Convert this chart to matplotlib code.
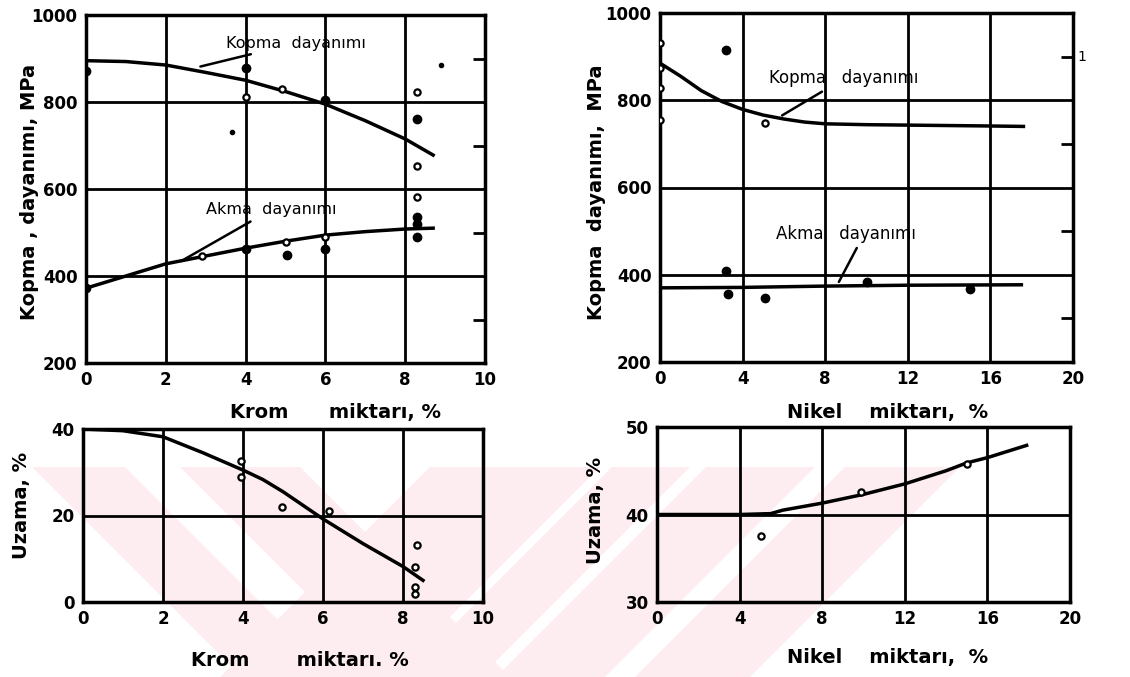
import matplotlib.pyplot as plt
from matplotlib.patches import Polygon
from matplotlib.ticker import FixedLocator

# --- Krom (chromium) panel, strength ---
krom_x = [0, 1, 2, 3, 4, 5, 6, 7, 8, 8.7]
kopma_krom = [895, 893, 885, 868, 850, 824, 795, 757, 715, 678]
akma_krom = [372, 400, 428, 446, 464, 480, 494, 502, 508, 510]

kopma_krom_open_x = [4, 4.9, 8.3, 8.3, 8.3]
kopma_krom_open_y = [812, 830, 823, 653, 582]
kopma_krom_fill_x = [0, 4, 6, 8.3, 8.3]
kopma_krom_fill_y = [872, 878, 805, 761, 536]
stray_krom_x = [3.65, 8.9]
stray_krom_y = [731, 885]

akma_krom_open_x = [5, 2.9, 6]
akma_krom_open_y = [478, 447, 490]
akma_krom_fill_x = [0, 4, 5.05, 6, 8.3, 8.3]
akma_krom_fill_y = [372, 462, 448, 462, 490, 520]

# --- Nikel (nickel) panel, strength ---
nikel_x = [0, 1, 2, 3, 4, 5, 6, 7, 8, 10, 12, 14, 16, 17.6]
kopma_nikel = [885, 855, 822, 797, 779, 766, 757, 750, 746, 744, 743, 742, 741, 740]
akma_nikel_x = [0, 4, 8, 12, 17.5]
akma_nikel = [370, 371, 374, 376, 377]

kopma_nikel_open_x = [0, 0, 0, 0, 5.1]
kopma_nikel_open_y = [931, 874, 828, 754, 747]
kopma_nikel_fill_x = [3.2]
kopma_nikel_fill_y = [916]
akma_nikel_fill_x = [3.2, 3.3, 5.1, 10, 15]
akma_nikel_fill_y = [409, 356, 347, 384, 368]

# --- elongation ---
uzama_krom_x = [0, 1, 2, 3, 4, 4.5, 5, 6, 7, 8, 8.5]
uzama_krom = [40, 39.6, 38.2, 34.5, 30.5, 28.3, 25.5, 19.2, 13.5, 8.2, 5.0]
uzama_krom_open_x = [3.95, 3.95, 4.97, 6.16, 8.34, 8.3, 8.3, 8.3]
uzama_krom_open_y = [32.5, 29, 22, 21, 13.2, 8.2, 3.5, 1.8]

uzama_nikel_x = [0, 2, 4, 5.5, 6.1, 8, 10, 12, 14, 15, 16, 17.9]
uzama_nikel = [40, 40, 40, 40.1, 40.5, 41.3, 42.3, 43.5, 45, 45.9, 46.5, 47.9]
uzama_nikel_open_x = [5.05, 9.9, 15]
uzama_nikel_open_y = [37.5, 42.6, 45.8]

W, H = 1130, 677
plt.rcParams["font.family"] = ["DejaVu Sans"]
fig = plt.figure(figsize=(W / 100, H / 100), dpi=100)


def px(x0, y0, x1, y1):
    return [x0 / W, 1 - y1 / H, (x1 - x0) / W, (y1 - y0) / H]


# faint pink watermark stripes behind the panels
pink = "#fdedf0"
top, bot = 467, 677
h = bot - top
bands = [(32, 125, 1), (180, 300, 1), (430, 600, -1), (612, 690, -1),
         (706, 815, -1), (845, 960, -1)]
for a, b, d in bands:
    poly = [(a, top), (b, top), (b + d * h, bot), (a + d * h, bot)]
    poly = [(x / W, 1 - y / H) for x, y in poly]
    fig.patches.append(Polygon(poly, closed=True, transform=fig.transFigure,
                               facecolor=pink, edgecolor="none", zorder=-5))


def style(ax, xt, yt, xl, yl, minor=None):
    ax.set_facecolor("none")
    ax.set_xlim(xt[0], xt[-1])
    ax.set_ylim(yt[0], yt[-1])
    ax.set_xticks(xt)
    ax.set_yticks(yt)
    ax.set_xticklabels(xl)
    ax.set_yticklabels(yl)
    ax.tick_params(length=0, labelsize=12, pad=6)
    for lab in ax.get_xticklabels() + ax.get_yticklabels():
        lab.set_fontweight("bold")
    for s in ax.spines.values():
        s.set_linewidth(2.5)
    ax.grid(True, color="black", linewidth=2.0)
    ax.set_axisbelow(True)
    if minor is not None:
        ax.yaxis.set_minor_locator(FixedLocator(minor))
        ax.tick_params(which="minor", left=False, right=True,
                       direction="in", length=9, width=2)


line_kw = dict(color="black", linewidth=2.5, zorder=3)
open_kw = dict(marker="o", linestyle="none", markersize=4.5, markerfacecolor="white",
               markeredgecolor="black", markeredgewidth=1.6, zorder=4)
fill_kw = dict(marker="o", linestyle="none", markersize=6, color="black", zorder=4)
ann = dict(fontsize=11.5, va="center")
leader = dict(arrowstyle="-", color="black", lw=1.8)

# top-left
ax1 = fig.add_axes(px(86, 15, 485, 363))
style(ax1, [0, 2, 4, 6, 8, 10], [200, 400, 600, 800, 1000],
      ["0", "2", "4", "6", "8", "10"], ["200", "400", "600", "800", "1000"],
      minor=[300, 500, 700, 900])
ax1.plot(krom_x, kopma_krom, **line_kw)
ax1.plot(krom_x, akma_krom, **line_kw)
ax1.plot(kopma_krom_open_x, kopma_krom_open_y, **open_kw)
ax1.plot(kopma_krom_fill_x, kopma_krom_fill_y, **fill_kw)
ax1.plot(stray_krom_x, stray_krom_y, marker="o", linestyle="none", markersize=3, color="black")
ax1.plot(akma_krom_open_x, akma_krom_open_y, **open_kw)
ax1.plot(akma_krom_fill_x, akma_krom_fill_y, **fill_kw)
ax1.annotate("Kopma  dayanımı", xy=(2.8, 880), xytext=(3.5, 935),
             arrowprops=leader, **ann)
ax1.annotate("Akma  dayanımı", xy=(2.4, 435), xytext=(3.0, 552),
             arrowprops=leader, **ann)

# top-right
ax2 = fig.add_axes(px(660, 13, 1073, 362))
style(ax2, [0, 4, 8, 12, 16, 20], [200, 400, 600, 800, 1000],
      ["0", "4", "8", "12", "16", "20"], ["200", "400", "600", "800", "1000"],
      minor=[300, 500, 700, 900])
ax2.plot(nikel_x, kopma_nikel, **line_kw)
ax2.plot(akma_nikel_x, akma_nikel, **line_kw)
ax2.plot(kopma_nikel_open_x, kopma_nikel_open_y, **open_kw)
ax2.plot(kopma_nikel_fill_x, kopma_nikel_fill_y, **fill_kw)
ax2.plot(akma_nikel_fill_x, akma_nikel_fill_y, **fill_kw)
ax2.annotate("Kopma   dayanımı", xy=(5.8, 762), xytext=(5.3, 850),
             arrowprops=dict(leader, shrinkA=2), fontsize=12, va="center")
ax2.annotate("Akma   dayanımı", xy=(8.6, 378), xytext=(5.6, 494),
             arrowprops=dict(leader, relpos=(0.6, 0)), fontsize=12, va="center")
ax2.text(1.01, 900, "1", transform=ax2.get_yaxis_transform(), fontsize=10,
         va="center")

# bottom-left
ax3 = fig.add_axes(px(83, 429, 483, 602))
style(ax3, [0, 2, 4, 6, 8, 10], [0, 20, 40],
      ["0", "2", "4", "6", "8", "10"], ["0", "20", "40"])
ax3.plot(uzama_krom_x, uzama_krom, **line_kw)
ax3.plot(uzama_krom_open_x, uzama_krom_open_y, **open_kw)

# bottom-right
ax4 = fig.add_axes(px(657, 427, 1070, 602))
style(ax4, [0, 4, 8, 12, 16, 20], [30, 40, 50],
      ["0", "4", "8", "12", "16", "20"], ["30", "40", "50"])
ax4.plot(uzama_nikel_x, uzama_nikel, **line_kw)
ax4.plot(uzama_nikel_open_x, uzama_nikel_open_y, **open_kw)

# axis titles placed like the scanned page
lab = dict(fontsize=14, fontweight="bold", ha="center", va="center")
fig.text(30 / W, 1 - 192 / H, "Kopma , dayanımı, MPa", rotation=90, **lab)
fig.text(597 / W, 1 - 192 / H, "Kopma  dayanımı,  MPa", rotation=90, **lab)
fig.text(22 / W, 1 - 505 / H, "Uzama, %", rotation=90, **lab)
fig.text(595 / W, 1 - 510 / H, "Uzama, %", rotation=90, **lab)
fig.text(335 / W, 1 - 412 / H, "Krom      miktarı, %", **lab)
fig.text(888 / W, 1 - 412 / H, "Nikel    miktarı,  %", **lab)
fig.text(300 / W, 1 - 660 / H, "Krom       miktarı. %", **lab)
fig.text(888 / W, 1 - 657 / H, "Nikel    miktarı,  %", **lab)

fig.savefig("out.png", dpi=100, facecolor="white")
